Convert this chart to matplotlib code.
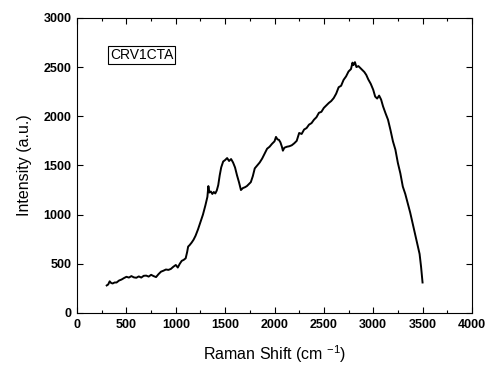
import matplotlib
matplotlib.use("Agg")
import matplotlib.pyplot as plt
from matplotlib.ticker import MultipleLocator

plt.rcParams['font.family'] = ['Liberation Sans', 'DejaVu Sans']
plt.rcParams['mathtext.fontset'] = 'custom'
plt.rcParams['mathtext.rm'] = 'Liberation Sans'
plt.rcParams['mathtext.default'] = 'regular'

# Raman spectrum
shift = [300, 315, 330, 345, 360, 380, 400, 425, 450, 475, 500, 525, 550, 575,
         600, 625, 650, 675, 700, 725, 750, 775, 800, 825, 850, 875, 900, 925,
         950, 975, 1000, 1020, 1040, 1060, 1080, 1100, 1115, 1125, 1140, 1160,
         1180, 1200, 1225, 1250, 1275, 1300, 1320, 1330, 1340, 1355, 1370,
         1385, 1400, 1415, 1430, 1445, 1460, 1480, 1500, 1520, 1540, 1560,
         1580, 1600, 1620, 1640, 1660, 1680, 1700, 1720, 1740, 1760, 1780,
         1800, 1825, 1850, 1875, 1900, 1925, 1950, 1975, 2000, 2015, 2030,
         2045, 2060, 2075, 2085, 2100, 2125, 2150, 2175, 2200, 2225, 2250,
         2275, 2300, 2325, 2350, 2375, 2400, 2425, 2450, 2475, 2500, 2525,
         2550, 2575, 2600, 2625, 2650, 2675, 2700, 2725, 2750, 2775, 2790,
         2800, 2815, 2830, 2850, 2870, 2890, 2910, 2930, 2950, 2975, 3000,
         3020, 3040, 3060, 3080, 3100, 3125, 3150, 3175, 3200, 3225, 3250,
         3275, 3300, 3325, 3350, 3375, 3400, 3425, 3450, 3470, 3485, 3500]
intensity = [280, 290, 322, 305, 300, 310, 310, 330, 340, 355, 368, 360, 375,
             362, 358, 372, 360, 378, 380, 370, 388, 375, 365, 395, 420, 430,
             442, 438, 448, 470, 488, 462, 500, 530, 540, 556, 620, 675, 690,
             715, 745, 785, 850, 925, 1000, 1095, 1180, 1290, 1225, 1235, 1210,
             1230, 1215, 1245, 1300, 1400, 1480, 1540, 1555, 1575, 1545, 1565,
             1530, 1480, 1400, 1330, 1250, 1270, 1278, 1290, 1310, 1330, 1390,
             1470, 1500, 1530, 1570, 1620, 1670, 1690, 1720, 1745, 1790, 1765,
             1760, 1735, 1690, 1650, 1680, 1690, 1695, 1705, 1725, 1750, 1830,
             1820, 1865, 1880, 1915, 1930, 1965, 1990, 2035, 2045, 2085, 2110,
             2135, 2155, 2185, 2230, 2295, 2310, 2370, 2405, 2455, 2480, 2545,
             2520, 2550, 2500, 2510, 2490, 2470, 2450, 2420, 2375, 2330, 2270,
             2200, 2180, 2210, 2170, 2100, 2030, 1965, 1860, 1745, 1660, 1525,
             1420, 1285, 1210, 1115, 1020, 910, 800, 690, 600, 470, 310]

fig = plt.figure(figsize=(4.88, 3.65), dpi=100)
ax = fig.add_axes([0.158, 0.1425, 0.809, 0.8085])
ax.plot(shift, intensity, color='black', linewidth=1.4)

ax.set_xlim(0, 4000)
ax.set_ylim(0, 3000)
ax.xaxis.set_major_locator(MultipleLocator(500))
ax.xaxis.set_minor_locator(MultipleLocator(250))
ax.yaxis.set_major_locator(MultipleLocator(500))
ax.tick_params(which='both', direction='in', top=True, right=True,
               labelsize=9, width=0.8)
ax.tick_params(which='major', length=4, pad=4)
ax.tick_params(which='minor', length=2)
for lab in ax.get_xticklabels() + ax.get_yticklabels():
    lab.set_fontweight('bold')
for s in ax.spines.values():
    s.set_linewidth(0.8)

ax.set_xlabel('Raman Shift (cm $^{-1}$)', fontsize=11.5, labelpad=9)
ax.set_ylabel('Intensity (a.u.)', fontsize=11.5, labelpad=8)

ax.text(0.083, 0.873, 'CRV1CTA', transform=ax.transAxes, fontsize=10,
        va='center', ha='left',
        bbox=dict(boxstyle='square,pad=0.15', facecolor='white',
                  edgecolor='black', linewidth=0.8))

fig.savefig('out.png', dpi=100)
